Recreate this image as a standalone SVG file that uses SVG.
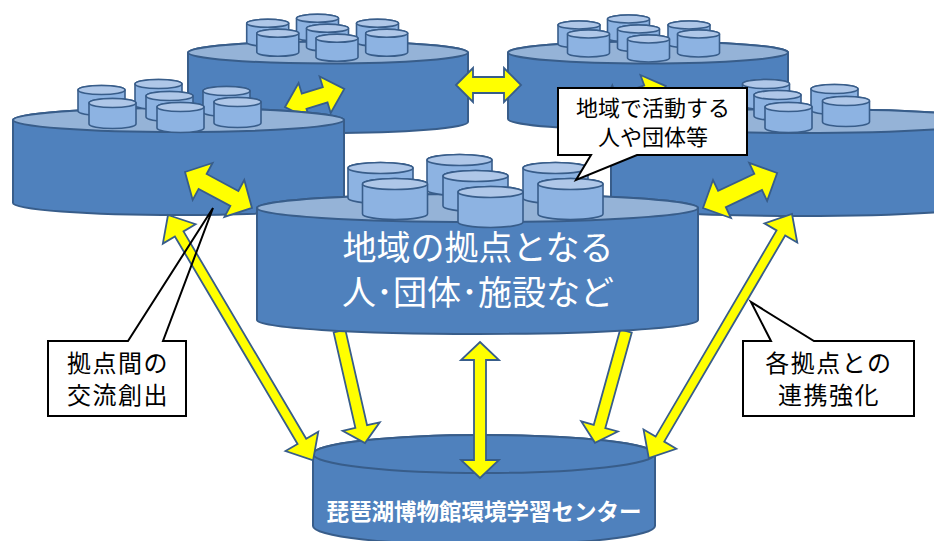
<svg xmlns="http://www.w3.org/2000/svg" xmlns:xlink="http://www.w3.org/1999/xlink" width="934" height="541" viewBox="0 0 934 541">
<style>
.pf-body{fill:#4F81BD;stroke:#385D8A;stroke-width:2}
.pf-top{fill:#95B3D7;stroke:#385D8A;stroke-width:2}
.tk-body{fill:#8DB3E2;stroke:#385D8A;stroke-width:1.6}
.tk-top{fill:#AFC7E8;stroke:#385D8A;stroke-width:1.6}
.arr{fill:#FFFF00;stroke:#385D8A;stroke-width:1.8;stroke-linejoin:miter}
.co-fill{fill:#FFFFFF;stroke:none}
.co-line{fill:none;stroke:#000000;stroke-width:2;stroke-linejoin:miter}
.co-box{fill:#FFFFFF;stroke:#000000;stroke-width:2}
.t{font-family:"Noto Sans CJK JP","Noto Sans",sans-serif;text-anchor:middle}
.tb{fill:#000000}
.tw{fill:#FFFFFF}
.cl{font-size:24px;letter-spacing:1.5px}
</style>
<defs>
<g id="tokA">
<path class="tk-body" d="M-21,0 L-21,19 A21,4 0 0 0 21,19 L21,0 A21,4 0 0 0 -21,0 Z"/>
<ellipse class="tk-top" cx="0" cy="0" rx="21" ry="4"/>
</g>
<g id="tokC">
<path class="tk-body" d="M-23.5,0 L-23.5,21 A23.5,4.5 0 0 0 23.5,21 L23.5,0 A23.5,4.5 0 0 0 -23.5,0 Z"/>
<ellipse class="tk-top" cx="0" cy="0" rx="23.5" ry="4.5"/>
</g>
<g id="tokE">
<path class="tk-body" d="M-32.5,0 L-32.5,30 A32.5,5.5 0 0 0 32.5,30 L32.5,0 A32.5,5.5 0 0 0 -32.5,0 Z"/>
<ellipse class="tk-top" cx="0" cy="0" rx="32.5" ry="5.5"/>
</g>
</defs>
<rect x="0" y="0" width="934" height="541" fill="#FFFFFF"/>

<g id="node-A">
<path class="pf-body" d="M188,52.5 L188,122 A140,11 0 0 0 468,122 L468,52.5 A140,11 0 0 0 188,52.5 Z"/>
<ellipse class="pf-top" cx="328" cy="52.5" rx="140" ry="11"/>
<use xlink:href="#tokA" x="317.5" y="18.3"/>
<use xlink:href="#tokA" x="267.7" y="23.3"/>
<use xlink:href="#tokA" x="377.5" y="23.3"/>
<use xlink:href="#tokA" x="327.5" y="28.3"/>
<use xlink:href="#tokA" x="277.8" y="33.3"/>
<use xlink:href="#tokA" x="386.7" y="33.3"/>
<use xlink:href="#tokA" x="337" y="38.3"/>
</g>

<g id="node-B">
<path class="pf-body" d="M508,52.5 L508,119 A140,11 0 0 0 788,119 L788,52.5 A140,11 0 0 0 508,52.5 Z"/>
<ellipse class="pf-top" cx="648" cy="52.5" rx="140" ry="11"/>
<use xlink:href="#tokA" x="628.5" y="19"/>
<use xlink:href="#tokA" x="579" y="25"/>
<use xlink:href="#tokA" x="689" y="25"/>
<use xlink:href="#tokA" x="638.5" y="29"/>
<use xlink:href="#tokA" x="588.5" y="34"/>
<use xlink:href="#tokA" x="698.5" y="34"/>
<use xlink:href="#tokA" x="648.5" y="39"/>
</g>

<g id="connectors-back">
<polygon class="arr" transform="translate(285,107) rotate(-17)" points="0,0 20,-19 20,-8 42,-8 42,-19 62,0 42,19 42,8 20,8 20,19"/>
<polygon class="arr" transform="translate(600,110) rotate(-20)" points="0,0 20,-19 20,-8 50,-8 50,-19 70,0 50,19 50,8 20,8 20,19"/>
</g>

<g id="node-C">
<path class="pf-body" d="M13,120 L13,203 A165.5,12 0 0 0 344,203 L344,120 A165.5,12 0 0 0 13,120 Z"/>
<ellipse class="pf-top" cx="178.5" cy="120" rx="165.5" ry="12"/>
<use xlink:href="#tokC" x="158.5" y="84"/>
<use xlink:href="#tokC" x="101.5" y="90"/>
<use xlink:href="#tokC" x="226.5" y="91"/>
<use xlink:href="#tokC" x="169.5" y="96"/>
<use xlink:href="#tokC" x="237.5" y="102"/>
<use xlink:href="#tokC" x="112.5" y="103"/>
<use xlink:href="#tokC" x="180.5" y="107"/>
</g>

<g id="node-D">
<path class="pf-body" d="M611,121 L611,204 A189,12 0 0 0 989,204 L989,121 A189,12 0 0 0 611,121 Z"/>
<ellipse class="pf-top" cx="800" cy="121" rx="189" ry="12"/>
<use xlink:href="#tokC" x="766" y="84"/>
<use xlink:href="#tokC" x="834.5" y="89"/>
<use xlink:href="#tokC" x="777.5" y="95"/>
<use xlink:href="#tokC" x="846" y="101"/>
<use xlink:href="#tokC" x="788.5" y="107"/>
</g>

<g id="node-F">
<path class="pf-body" d="M313,454 L313,526 A171,19 0 0 0 655,526 L655,454 A171,19 0 0 0 313,454 Z"/>
<ellipse class="pf-body" cx="484" cy="454" rx="171" ry="19"/>
<text class="t tw" x="484" y="520" font-size="22.5" font-weight="bold">琵琶湖博物館環境学習センター</text>
</g>

<g id="connectors">
<polygon class="arr" transform="translate(456,85)" points="0,0 17,-17 17,-8 48,-8 48,-17 65,0 48,17 48,8 17,8 17,17"/>
<polygon class="arr" transform="translate(185,172) rotate(28.2)" points="0,0 20,-21 20,-8.5 56,-8.5 56,-21 76,0 56,21 56,8.5 20,8.5 20,21"/>
<polygon class="arr" transform="translate(703,208) rotate(-25.3)" points="0,0 21,-21 21,-9 61,-9 61,-21 82,0 61,21 61,9 21,9 21,21"/>
<polygon class="arr" transform="translate(168,215) rotate(59.4)" points="0,0 22,-19 22,-5 263,-5 263,-19 285,0 263,19 263,5 22,5 22,19"/>
<polygon class="arr" transform="translate(792,214) rotate(120.4)" points="0,0 22,-19 22,-5 261,-5 261,-19 283,0 261,19 261,5 22,5 22,19"/>
<polygon class="arr" transform="translate(339.5,331) rotate(77.2)" points="0,-6 98,-6 98,-19 115,0 98,19 98,6 0,6"/>
<polygon class="arr" transform="translate(626,331) rotate(105.5)" points="0,-6 99,-6 99,-19 116,0 99,19 99,6 0,6"/>
<polygon class="arr" transform="translate(480,342) rotate(90)" points="0,0 18,-19 18,-6 118,-6 118,-19 136,0 118,19 118,6 18,6 18,19"/>
</g>

<g id="node-E">
<path class="pf-body" d="M257,208 L257,320 A220.5,14 0 0 0 698,320 L698,208 A220.5,14 0 0 0 257,208 Z"/>
<ellipse class="pf-top" cx="477.5" cy="208" rx="220.5" ry="14"/>
<use xlink:href="#tokE" x="459.5" y="160"/>
<use xlink:href="#tokE" x="380.5" y="168"/>
<use xlink:href="#tokE" x="555.5" y="168"/>
<use xlink:href="#tokE" x="475.5" y="176"/>
<use xlink:href="#tokE" x="395" y="184"/>
<use xlink:href="#tokE" x="570.5" y="184"/>
<use xlink:href="#tokE" x="490.5" y="192"/>
<text class="t tw" x="478" y="260" font-size="34">地域の拠点となる</text>
<text class="t tw" x="478" y="305" font-size="34">人･団体･施設など</text>
</g>

<g id="callout-people">
<path class="co-box" d="M558,88 L747,88 L747,155 L637,155 L576,180 L591,155 L558,155 Z"/>
<text class="t tb" x="653" y="116" font-size="22">地域で活動する</text>
<text class="t tb" x="653" y="145" font-size="22">人や団体等</text>
</g>

<g id="callout-exchange">
<rect class="co-fill" x="48" y="341" width="138" height="75"/>
<path class="co-line" d="M48,341 L128,341 L213,208 L163,341 L186,341 L186,416 L48,416 Z"/>
<text class="t tb cl" x="118" y="372">拠点間の</text>
<text class="t tb cl" x="118" y="404">交流創出</text>
</g>

<g id="callout-cooperation">
<rect class="co-fill" x="743" y="341" width="171" height="75"/>
<path class="co-line" d="M743,341 L771,341 L751,302 L814,341 L914,341 L914,416 L743,416 Z"/>
<text class="t tb cl" x="829" y="372">各拠点との</text>
<text class="t tb cl" x="829" y="404">連携強化</text>
</g>
</svg>
